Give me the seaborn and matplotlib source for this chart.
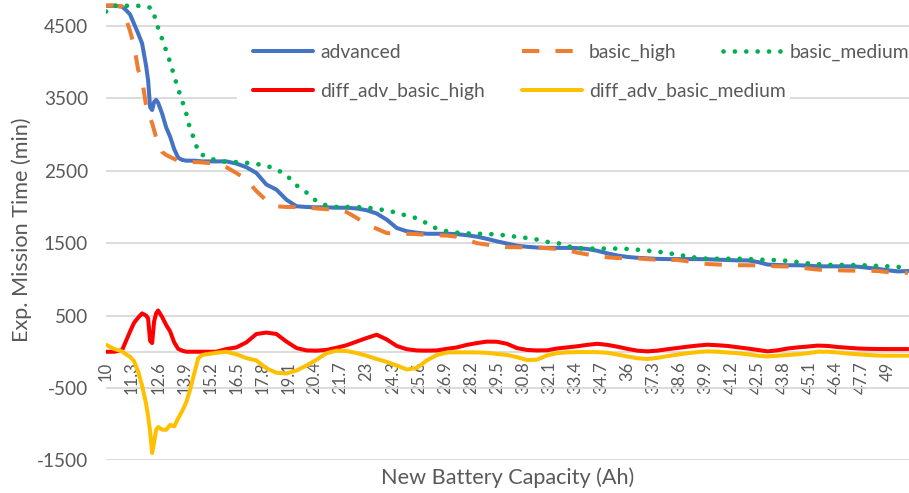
import matplotlib
matplotlib.use("Agg")
import matplotlib.pyplot as plt
import seaborn as sns
from matplotlib.patches import Rectangle

# battery capacity (Ah) at which the curves were read
capacity = [10.0, 10.4, 10.8, 11.0, 11.2, 11.4, 11.6, 11.8, 12.0, 12.1, 12.2, 12.3, 12.4,
            12.5, 12.6, 12.8, 13.0, 13.2, 13.4, 13.6, 13.8, 14.0, 14.2, 14.4, 14.6, 14.8,
            15.0, 15.5, 16.0, 16.5, 17.0, 17.5, 18.0, 18.5, 19.0, 19.5,
            20.0, 20.5, 21.0, 21.5, 22.0, 22.5, 23.0, 23.5, 24.0, 24.5,
            25.0, 25.5, 26.0, 26.5, 27.0, 27.5, 28.0, 28.5, 29.0, 29.5,
            30.0, 30.5, 31.0, 31.5, 32.0, 32.5, 33.0, 33.5, 34.0, 34.5,
            35.0, 35.5, 36.0, 36.5, 37.0, 37.5, 38.0, 38.5, 39.0, 39.5,
            40.0, 40.5, 41.0, 41.5, 42.0, 42.5, 43.0, 43.5, 44.0, 44.5,
            45.0, 45.5, 46.0, 46.5, 47.0, 47.5, 48.0, 48.5, 49.0, 49.5,
            50.0]

advanced = [4780, 4780, 4770, 4720, 4660, 4530, 4400, 4260, 3950, 3750, 3380, 3340, 3450,
            3480, 3440, 3290, 3100, 2970, 2800, 2680, 2650, 2640, 2640, 2640, 2635, 2630,
            2630, 2630, 2630, 2600, 2550, 2470, 2310, 2240, 2100, 2010,
            2000, 1995, 1995, 1990, 1990, 1980, 1955, 1910, 1825, 1710,
            1665, 1645, 1630, 1630, 1630, 1625, 1610, 1590, 1560, 1525,
            1495, 1465, 1450, 1440, 1435, 1435, 1435, 1432, 1420, 1395,
            1360, 1330, 1310, 1298, 1290, 1283, 1280, 1280, 1280, 1280,
            1278, 1272, 1268, 1262, 1262, 1240, 1205, 1198, 1195, 1195,
            1190, 1180, 1180, 1180, 1180, 1175, 1160, 1145, 1125, 1110,
            1115]

basic_high = [4785, 4785, 4770, 4600, 4430, 4230, 3900, 3760, 3400, 3290, 3230, 3160, 3060,
              2960, 2880, 2760, 2720, 2690, 2665, 2640, 2630, 2625, 2620, 2620, 2620, 2615,
              2610, 2600, 2550, 2470, 2380, 2220, 2090, 2010, 2000, 2000,
              1995, 1980, 1970, 1965, 1930, 1850, 1760, 1700, 1640, 1630,
              1630, 1625, 1615, 1610, 1605, 1590, 1550, 1500, 1480, 1460,
              1445, 1445, 1440, 1440, 1430, 1420, 1405, 1370, 1345, 1320,
              1305, 1295, 1295, 1290, 1280, 1270, 1270, 1268, 1250, 1225,
              1212, 1205, 1200, 1195, 1195, 1193, 1188, 1180, 1178, 1170,
              1150, 1135, 1128, 1125, 1122, 1120, 1120, 1115, 1100, 1095,
              1090]

basic_medium = [4700, 4780, 4780, 4780, 4780, 4780, 4780, 4775, 4765, 4760, 4755, 4745, 4660,
                4545, 4475, 4320, 4160, 4000, 3810, 3630, 3465, 3295, 3070, 2940, 2760, 2720,
                2700, 2640, 2625, 2620, 2610, 2595, 2570, 2520, 2440, 2300,
                2200, 2080, 2020, 2000, 2000, 1998, 1995, 1970, 1955, 1920,
                1880, 1845, 1775, 1700, 1665, 1645, 1635, 1630, 1628, 1620,
                1605, 1587, 1572, 1550, 1518, 1505, 1460, 1430, 1425, 1425,
                1425, 1425, 1420, 1410, 1397, 1383, 1365, 1340, 1320, 1295,
                1285, 1285, 1285, 1285, 1282, 1272, 1270, 1265, 1255, 1238,
                1222, 1210, 1200, 1200, 1200, 1196, 1192, 1185, 1180, 1172,
                1160]

diff_adv_basic_high = [0, 0, 20, 150, 280, 400, 470, 530, 500, 460, 150, 120, 420,
                       530, 570, 480, 370, 280, 130, 40, 15, 0, 0, 0, 0, 0,
                       0, 0, 37, 60, 129, 245, 265, 245, 140, 51,
                       18, 15, 25, 55, 90, 140, 190, 235, 170, 80,
                       35, 18, 15, 18, 40, 60, 95, 120, 140, 138,
                       110, 50, 25, 18, 20, 45, 60, 75, 95, 110,
                       95, 70, 40, 15, 5, 15, 35, 52, 70, 85,
                       97, 90, 80, 62, 45, 25, 5, 20, 45, 60,
                       72, 85, 80, 65, 55, 45, 40, 38, 37, 37,
                       37]

diff_adv_basic_medium = [97, 40, 5, -35, -70, -130, -270, -470, -720, -890, -1100, -1400, -1250,
                         -1080, -1040, -1075, -1079, -1010, -1033, -920, -820, -700, -520, -300, -90, -45,
                         -35, -15, 0, -35, -88, -120, -230, -290, -300, -260,
                         -190, -111, -20, 15, 10, -18, -55, -100, -140, -190,
                         -245, -225, -120, -45, -10, -8, -8, -9, -15, -30,
                         -45, -75, -115, -110, -50, -20, -8, -5, -5, -5,
                         -15, -38, -65, -90, -100, -85, -60, -40, -20, -5,
                         5, 0, -10, -20, -35, -55, -65, -55, -45, -35,
                         -20, 0, 0, -10, -25, -35, -45, -52, -55, -55,
                         -55]

x_tick_labels = ["10", "11.3", "12.6", "13.9", "15.2", "16.5", "17.8", "19.1", "20.4",
                 "21.7", "23", "24.3", "25.6", "26.9", "28.2", "29.5", "30.8", "32.1",
                 "33.4", "34.7", "36", "37.3", "38.6", "39.9", "41.2", "42.5", "43.8",
                 "45.1", "46.4", "47.7", "49"]
y_ticks = [-1500, -500, 500, 1500, 2500, 3500, 4500]

sns.set_theme(style="white")
plt.rcParams['font.family'] = ['Lato', 'DejaVu Sans']
plt.rcParams['axes.unicode_minus'] = False
text_color = '#595959'
grid_color = '#d9d9d9'

W, H = 909, 493
fig = plt.figure(figsize=(W / 100, H / 100), dpi=100)
ax = fig.add_axes([106 / W, (H - 460.3) / H, (W - 106) / W, 460.3 / H])

series = [
    ('advanced', advanced, '#4472C4', '-'),
    ('basic_high', basic_high, '#ED7D31', (0, (4.3, 4.0))),
    ('basic_medium', basic_medium, '#00B050', (0, (0.01, 2.4))),
    ('diff_adv_basic_high', diff_adv_basic_high, '#FF0000', '-'),
    ('diff_adv_basic_medium', diff_adv_basic_medium, '#FFC000', '-'),
]
for name, vals, color, ls in series:
    lw = 3.4 if name == 'basic_medium' else 2.9
    sns.lineplot(x=capacity, y=vals, ax=ax, color=color, linewidth=lw,
                 linestyle=ls, label=name, dash_capstyle='round' if name == 'basic_medium' else 'butt',
                 solid_capstyle='round', zorder=3)

handles, labels = ax.get_legend_handles_labels()
if ax.get_legend() is not None:
    ax.get_legend().remove()

ax.set_xlim(10, 50.05)
ax.set_ylim(-1500, 4860)
ax.set_xticks([float(t) for t in x_tick_labels])
ax.set_xticklabels(x_tick_labels)
ax.set_yticks(y_ticks)
ax.tick_params(axis='x', length=0, pad=7, labelsize=12, labelcolor=text_color, labelrotation=90)
ax.tick_params(axis='y', length=0, pad=13, labelsize=13.7, labelcolor=text_color)
ax.grid(axis='y', color=grid_color, linewidth=1.3)
ax.grid(axis='x', visible=False)
ax.set_axisbelow(True)

for s in ['left', 'right', 'top']:
    ax.spines[s].set_visible(False)
ax.spines['bottom'].set_position(('data', 0))
ax.spines['bottom'].set_color(grid_color)
ax.spines['bottom'].set_linewidth(1.3)
ax.spines['bottom'].set_zorder(0.6)

ax.set_xlabel('New Battery Capacity (Ah)', fontsize=15.6, color=text_color, va='center')
ax.xaxis.set_label_coords(0.5, (460.3 - 478) / 460.3)
ax.set_ylabel('Exp. Mission Time (min)', fontsize=15.6, color=text_color, va='center')
ax.yaxis.set_label_coords((22 - 106) / (W - 106), 0.5)

# white legend background hides the grid line behind it
ax.add_patch(Rectangle(((237 - 106) / (W - 106), (460.3 - 112) / 460.3),
                       (790 - 237) / (W - 106), 80 / 460.3,
                       transform=ax.transAxes, facecolor='white', edgecolor='none', zorder=1))

# legend laid out as in the original: 3 entries in the top row, 2 below
slots = [(253, 52), (522, 52), (723, 52), (253, 91), (522, 91)]
for h, lab, (px, py) in zip(handles, labels, slots):
    fig.legend([h], [lab], loc='center left', bbox_to_anchor=(px / W, 1 - py / H),
               frameon=False, fontsize=13.85, labelcolor=text_color, borderpad=0,
               borderaxespad=0, handlelength=3.12, handletextpad=0.36)

fig.savefig('out.png', dpi=100)
